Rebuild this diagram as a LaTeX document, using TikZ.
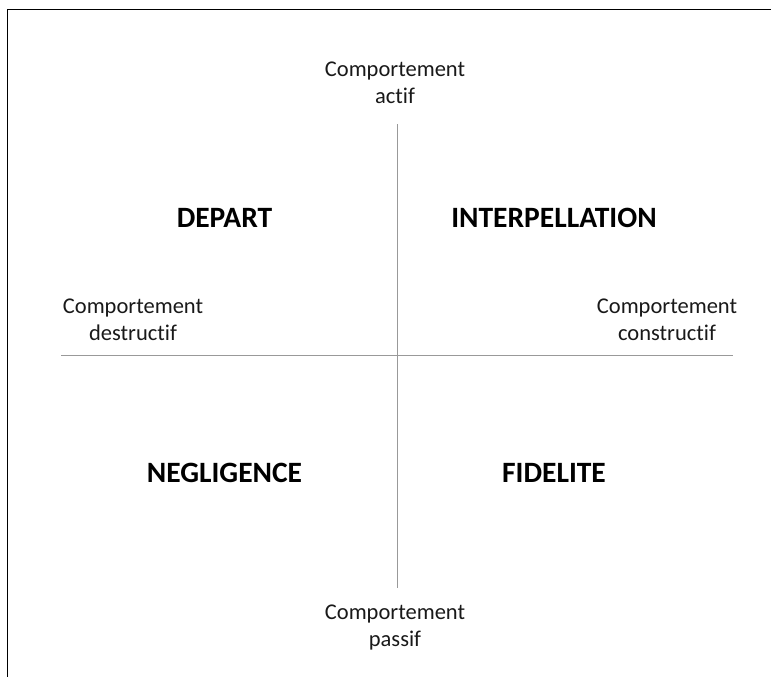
\documentclass[tikz,border=0pt]{standalone}
\usepackage{fontspec}
\setmainfont{Carlito}[Ligatures={NoCommon}]
\begin{document}
\begin{tikzpicture}[x=1pt,y=-1pt,
  axis/.style={draw=black!40, line width=1.6pt},
  frameline/.style={draw=black, line width=1.1pt},
  lbl/.style={font=\fontsize{22.5}{26.5}\selectfont, align=center, anchor=base, inner sep=0pt, text=black!90},
  quad/.style={font=\fontsize{29.5}{34}\selectfont\bfseries, anchor=base, inner sep=0pt, text=black}]
\useasboundingbox (0,0) rectangle (771,677);
% frame edges
\coordinate (fTR) at (771,9.5);
\coordinate (fTL) at (7.5,9.5);
\coordinate (fBL) at (7.5,677);
\draw[frameline] (fTR) -- (fTL) -- (fBL);
% axes
\coordinate (vTop) at (397.5,124);
\coordinate (vBot) at (397.5,588);
\coordinate (hL) at (61,355.5);
\coordinate (hR) at (733,355.5);
\draw[axis] (vTop) -- (vBot);
\draw[axis] (hL) -- (hR);
% axis labels (anchor = baseline of last line)
\node[lbl] (actif) at (395,103) {Comportement\\actif};
\node[lbl] (passif) at (395,646) {Comportement\\passif};
\node[lbl] (destr) at (133,340) {Comportement\\destructif};
\node[lbl] (constr) at (667,340) {Comportement\\constructif};
% quadrant labels
\node[quad] (depart) at (224.5,227) {DEPART};
\node[quad] (interp) at (554,227) {INTERPELLATION};
\node[quad] (negl) at (224.5,482) {NEGLIGENCE};
\node[quad] (fid) at (554,482) {FIDELITE};
\end{tikzpicture}
\end{document}
